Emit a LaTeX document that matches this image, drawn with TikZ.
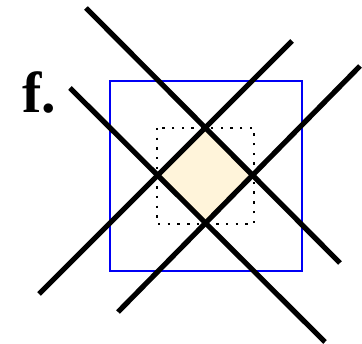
\documentclass[tikz,border=0pt]{standalone}
\usepackage{fontspec}
\setmainfont{Liberation Serif}
\usetikzlibrary{calc}
\definecolor{PatchCream}{HTML}{FFF4DA}
\definecolor{FrameBlue}{HTML}{0000F5}
\tikzset{
  cutline/.style={line width=5.2pt, draw=black},
  framebox/.style={line width=2.4pt, draw=FrameBlue},
  dotbox/.style={line width=2.4pt, draw=black, dash pattern=on 2.4pt off 7.3pt},
  patch/.style={fill=PatchCream, draw=none}
}
\begin{document}
\begin{tikzpicture}[x=1pt,y=-1pt]
  \useasboundingbox (0,0) rectangle (362,344);
  % corners of the small patch
  \coordinate (top) at (206,128);
  \coordinate (left) at (158,176);
  \coordinate (right) at (253,176);
  \coordinate (bot) at (206,223);
  \fill[patch] (top) -- (right) -- (bot) -- (left) -- cycle;
  \draw[dotbox] (157,128) rectangle (254,224);
  \draw[framebox] (110,81) rectangle (302,271);
  % the four lines
  \draw[cutline] (86,8) -- (340,263);
  \draw[cutline] (70,88) -- (325,342);
  \draw[cutline] (292,41) -- (39,294);
  \draw[cutline] (360,66) -- (118,312);
  \node[anchor=base west, inner sep=0pt, font=\fontsize{58}{60}\selectfont\bfseries] (lbl) at (22,113) {f.};
\end{tikzpicture}
\end{document}
